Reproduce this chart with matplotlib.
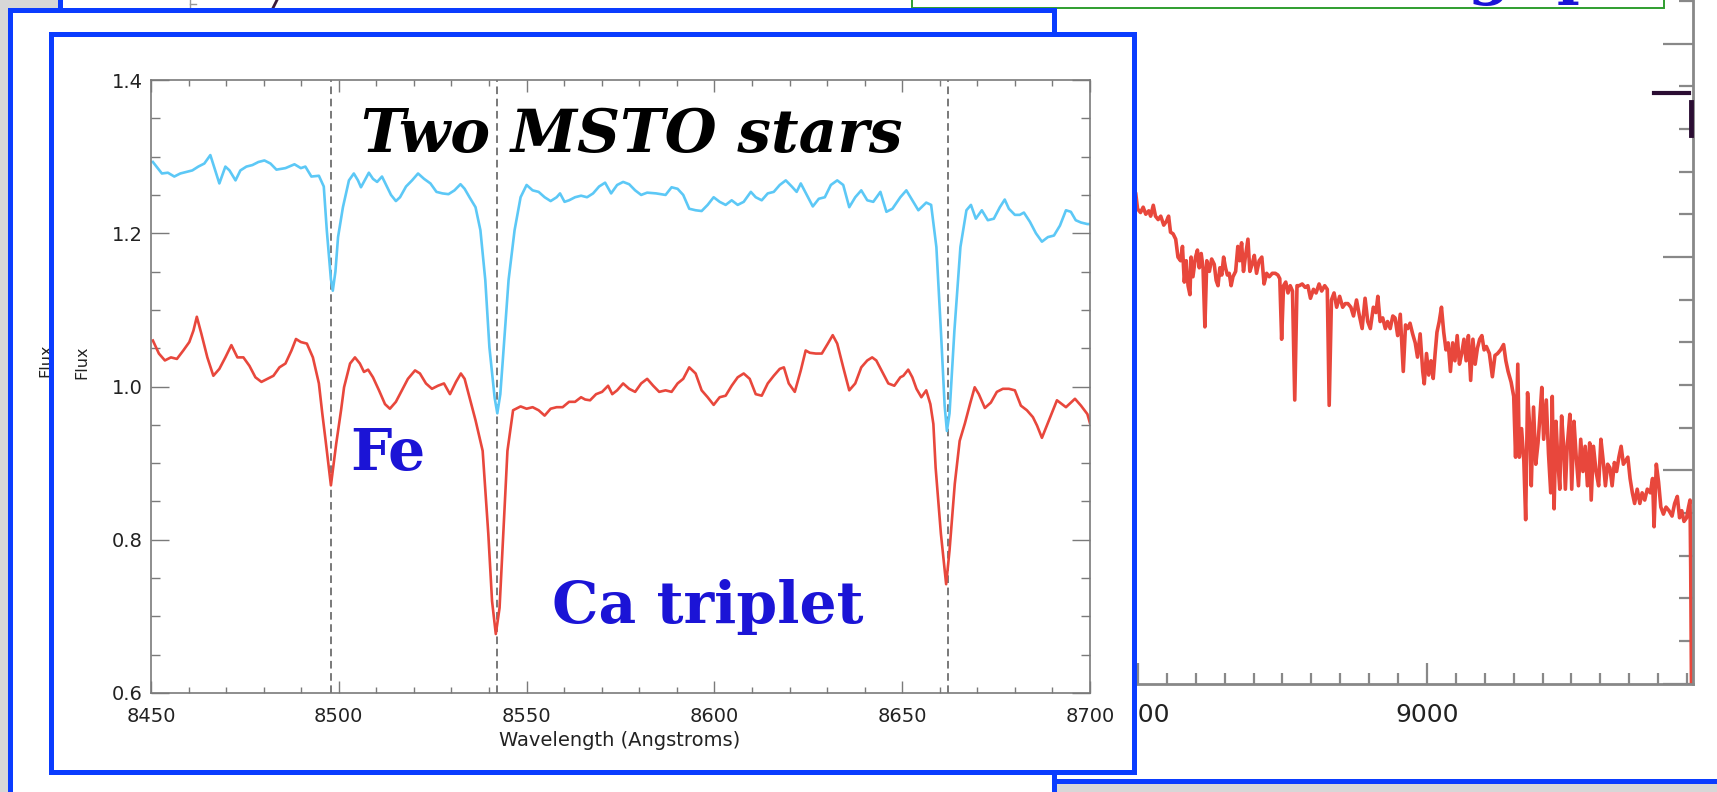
import matplotlib
matplotlib.use("Agg")
import matplotlib.pyplot as plt
from matplotlib.patches import Rectangle
from matplotlib.lines import Line2D
from matplotlib.ticker import MultipleLocator

W, H = 1717, 792

# two MSTO star spectra around the Ca triplet
blue_wave = [8450.5, 8452.9, 8454.5, 8456.2, 8457.8, 8459.4, 8461.0, 8462.6, 8464.2, 8465.8,
             8467.1, 8468.2, 8469.8, 8470.9, 8472.5, 8473.8, 8475.4, 8477.0, 8478.6, 8480.2,
             8481.8, 8483.4, 8485.8, 8488.2, 8489.9, 8491.1, 8492.7, 8494.7, 8496.0, 8496.8,
             8497.9, 8498.4, 8499.1, 8499.8, 8501.1, 8502.7, 8504.0, 8505.1, 8505.9, 8506.9,
             8508.0, 8509.1, 8510.2, 8511.5, 8512.6, 8513.9, 8515.2, 8516.3, 8517.9, 8519.5,
             8521.1, 8522.7, 8524.4, 8526.0, 8527.6, 8529.2, 8530.8, 8532.4, 8533.5, 8534.8,
             8536.4, 8537.7, 8539.0, 8540.1, 8541.5, 8542.2, 8543.0, 8543.6, 8545.2, 8546.8,
             8548.4, 8550.0, 8551.6, 8553.2, 8554.8, 8556.4, 8558.0, 8558.9, 8560.1, 8561.3,
             8562.9, 8564.5, 8566.1, 8567.7, 8569.3, 8570.9, 8572.5, 8574.1, 8575.7, 8577.3,
             8578.9, 8580.5, 8582.1, 8584.5, 8587.0, 8588.6, 8590.2, 8591.7, 8593.3, 8595.0,
             8596.6, 8598.2, 8599.8, 8601.4, 8603.0, 8604.6, 8606.2, 8607.8, 8609.7, 8611.0,
             8612.6, 8614.2, 8615.8, 8617.4, 8619.0, 8620.6, 8621.9, 8623.0, 8624.6, 8626.2,
             8627.8, 8629.4, 8631.0, 8632.7, 8634.3, 8635.9, 8637.5, 8639.1, 8640.7, 8642.3,
             8644.2, 8645.8, 8647.4, 8649.5, 8651.1, 8652.7, 8654.3, 8656.4, 8657.7, 8659.1,
             8660.3, 8661.3, 8661.9, 8662.6, 8663.9, 8665.5, 8667.1, 8668.3, 8669.6, 8671.2,
             8672.8, 8674.4, 8676.0, 8677.3, 8678.4, 8680.0, 8681.3, 8682.4, 8684.0, 8685.6,
             8687.2, 8688.8, 8690.4, 8692.0, 8693.6, 8694.9, 8696.2, 8697.6, 8699.3, 8700.0]
blue_flux = [1.293, 1.278, 1.279, 1.274, 1.278, 1.280, 1.282, 1.287, 1.291, 1.302,
             1.282, 1.265, 1.287, 1.282, 1.269, 1.282, 1.287, 1.289, 1.293, 1.295,
             1.291, 1.283, 1.285, 1.290, 1.285, 1.287, 1.274, 1.275, 1.261, 1.204,
             1.140, 1.125, 1.150, 1.195, 1.234, 1.269, 1.278, 1.269, 1.260, 1.269,
             1.279, 1.271, 1.267, 1.274, 1.263, 1.250, 1.242, 1.247, 1.261, 1.269,
             1.278, 1.271, 1.265, 1.254, 1.252, 1.251, 1.256, 1.264, 1.258, 1.247,
             1.234, 1.204, 1.139, 1.051, 0.985, 0.965, 0.990, 1.030, 1.139, 1.204,
             1.247, 1.263, 1.256, 1.254, 1.247, 1.242, 1.247, 1.252, 1.241, 1.243,
             1.247, 1.249, 1.247, 1.252, 1.261, 1.266, 1.252, 1.263, 1.267, 1.264,
             1.256, 1.250, 1.253, 1.252, 1.250, 1.260, 1.258, 1.250, 1.232, 1.230,
             1.229, 1.237, 1.247, 1.241, 1.237, 1.243, 1.237, 1.241, 1.254, 1.247,
             1.243, 1.252, 1.254, 1.263, 1.269, 1.261, 1.254, 1.265, 1.250, 1.235,
             1.245, 1.247, 1.263, 1.269, 1.263, 1.234, 1.247, 1.256, 1.243, 1.241,
             1.254, 1.228, 1.232, 1.247, 1.256, 1.243, 1.230, 1.240, 1.237, 1.182,
             1.073, 0.975, 0.942, 0.965, 1.073, 1.182, 1.230, 1.237, 1.219, 1.230,
             1.217, 1.219, 1.234, 1.244, 1.232, 1.224, 1.224, 1.227, 1.215, 1.200,
             1.189, 1.195, 1.197, 1.210, 1.230, 1.228, 1.217, 1.214, 1.212, 1.212]

red_wave = [8450.5, 8452.1, 8453.7, 8455.3, 8456.9, 8458.6, 8460.2, 8461.3, 8462.2, 8463.4,
            8465.0, 8466.6, 8468.2, 8469.8, 8471.4, 8473.0, 8474.6, 8476.2, 8477.8, 8479.4,
            8481.0, 8482.6, 8484.2, 8485.8, 8487.4, 8488.6, 8489.9, 8491.5, 8493.1, 8494.7,
            8495.6, 8496.5, 8497.9, 8499.3, 8500.6, 8501.4, 8503.0, 8504.3, 8505.6, 8506.7,
            8507.8, 8509.1, 8510.7, 8512.3, 8513.6, 8515.2, 8516.8, 8518.4, 8520.3, 8521.6,
            8523.2, 8524.8, 8526.4, 8528.0, 8529.6, 8531.2, 8532.5, 8533.5, 8534.8, 8536.4,
            8538.3, 8539.8, 8540.8, 8541.8, 8542.8, 8543.8, 8544.9, 8546.4, 8548.4, 8550.0,
            8551.6, 8553.2, 8554.8, 8556.4, 8558.0, 8559.6, 8561.3, 8562.9, 8564.5, 8565.6,
            8566.9, 8568.5, 8570.1, 8571.7, 8572.8, 8574.1, 8575.7, 8577.3, 8578.9, 8580.5,
            8582.1, 8583.7, 8585.3, 8587.0, 8588.6, 8590.2, 8591.7, 8593.3, 8595.0, 8596.6,
            8598.2, 8599.8, 8601.4, 8603.0, 8604.6, 8606.2, 8607.8, 8609.4, 8611.0, 8612.6,
            8614.2, 8615.8, 8617.4, 8618.5, 8619.8, 8621.4, 8623.0, 8624.3, 8625.4, 8627.0,
            8628.6, 8630.2, 8631.5, 8632.7, 8634.3, 8635.9, 8637.5, 8639.1, 8640.7, 8642.0,
            8643.1, 8644.7, 8646.3, 8647.9, 8649.5, 8650.3, 8651.6, 8652.7, 8653.8, 8655.1,
            8656.4, 8657.5, 8658.3, 8658.9, 8660.3, 8661.7, 8662.6, 8664.0, 8665.3, 8666.7,
            8668.1, 8669.3, 8670.4, 8672.0, 8673.6, 8675.2, 8676.8, 8678.4, 8680.0, 8681.6,
            8683.2, 8684.8, 8685.9, 8687.2, 8689.0, 8691.2, 8693.6, 8696.0, 8697.6, 8699.3,
            8700.0]
red_flux = [1.060, 1.043, 1.034, 1.038, 1.036, 1.047, 1.058, 1.073, 1.091, 1.069,
            1.038, 1.014, 1.023, 1.038, 1.054, 1.038, 1.038, 1.027, 1.012, 1.006,
            1.010, 1.014, 1.025, 1.030, 1.047, 1.062, 1.058, 1.056, 1.038, 1.004,
            0.965, 0.929, 0.871, 0.925, 0.969, 0.999, 1.030, 1.038, 1.030, 1.019,
            1.022, 1.012, 0.995, 0.977, 0.971, 0.980, 0.995, 1.010, 1.021, 1.017,
            1.004, 0.997, 1.001, 1.004, 0.990, 1.006, 1.017, 1.010, 0.986, 0.956,
            0.916, 0.808, 0.720, 0.677, 0.711, 0.808, 0.916, 0.969, 0.974, 0.971,
            0.973, 0.969, 0.962, 0.971, 0.973, 0.973, 0.980, 0.980, 0.986, 0.983,
            0.982, 0.990, 0.993, 1.001, 0.990, 0.995, 1.004, 0.997, 0.993, 1.004,
            1.010, 1.001, 0.993, 0.995, 0.993, 1.004, 1.010, 1.025, 1.017, 0.995,
            0.986, 0.976, 0.986, 0.988, 1.001, 1.012, 1.017, 1.010, 0.990, 0.988,
            1.004, 1.014, 1.023, 1.025, 1.004, 0.993, 1.021, 1.047, 1.044, 1.043,
            1.043, 1.056, 1.067, 1.056, 1.025, 0.995, 1.004, 1.025, 1.034, 1.038,
            1.034, 1.019, 1.004, 1.001, 1.012, 1.014, 1.022, 1.012, 0.997, 0.986,
            0.995, 0.977, 0.951, 0.894, 0.808, 0.742, 0.786, 0.873, 0.929, 0.952,
            0.978, 0.999, 0.990, 0.972, 0.979, 0.993, 0.997, 0.997, 0.995, 0.975,
            0.969, 0.960, 0.949, 0.933, 0.955, 0.982, 0.973, 0.984, 0.975, 0.964,
            0.952]

line_centers = [8498.0, 8542.1, 8662.1]
x_ticks = [8450, 8500, 8550, 8600, 8650, 8700]
y_ticks = [0.6, 0.8, 1.0, 1.2, 1.4]
y_ticklabels = ["0.6", "0.8", "1.0", "1.2", "1.4"]

# wide spectrum on the slide behind (arbitrary flux units)
bg_wave = [8490.0, 8495.9, 8499.2, 8504.3, 8508.9, 8513.4, 8518.6, 8521.8, 8526.4, 8530.2, 8534.8,
           8539.3, 8544.5, 8549.0, 8552.9, 8556.2, 8560.7, 8565.2, 8569.1, 8573.6, 8576.9,
           8580.1, 8583.4, 8586.6, 8589.8, 8591.8, 8595.0, 8599.5, 8602.8, 8606.0, 8609.3,
           8612.5, 8615.7, 8619.0, 8623.5, 8627.4, 8631.9, 8635.2, 8638.4, 8641.6, 8644.9,
           8648.1, 8651.4, 8654.6, 8657.8, 8661.1, 8664.3, 8668.9, 8672.7, 8676.0, 8679.2,
           8682.5, 8685.7, 8690.2, 8693.5, 8697.4, 8701.2, 8705.1, 8709.6, 8714.2, 8718.1,
           8722.6, 8727.1, 8732.3, 8737.5, 8742.0, 8745.3, 8748.5, 8751.8, 8755.6, 8759.5,
           8763.4, 8767.3, 8771.2, 8775.1, 8779.0, 8784.1, 8789.3, 8793.9, 8798.4, 8803.6,
           8808.1, 8813.3, 8817.8, 8823.0, 8827.5, 8830.8, 8834.7, 8839.2, 8843.7, 8848.9,
           8854.1, 8858.6, 8863.2, 8868.3, 8872.9, 8878.1, 8882.6, 8887.8, 8892.9, 8897.5,
           8902.0, 8907.2, 8911.7, 8915.0, 8918.9, 8923.4, 8927.9, 8931.8, 8936.4, 8940.9,
           8944.8, 8949.3, 8953.8, 8959.0, 8962.9, 8966.8, 8970.7, 8975.2, 8979.7, 8983.6,
           8988.2, 8992.7, 8995.3, 8999.2, 9003.1, 9007.0, 9010.8, 9014.1, 9017.3, 9021.2,
           9025.1, 9029.0, 9032.9, 9036.7, 9040.6, 9044.5, 9048.4, 9052.3, 9056.2, 9060.1,
           9064.0, 9067.8, 9071.7, 9075.6, 9079.5, 9083.4, 9087.3, 9091.2, 9095.0, 9098.9,
           9102.8, 9108.0, 9113.2, 9117.7, 9122.2, 9127.4, 9132.6, 9136.5, 9140.4, 9145.6,
           9150.1, 9153.3, 9157.2, 9159.8, 9163.7, 9167.6, 9170.8, 9174.1, 9178.0, 9180.5,
           9184.4, 9188.3, 9192.2, 9196.1, 9198.7, 9201.9, 9206.5, 9210.3, 9214.2, 9216.8,
           9220.0, 9223.3, 9226.5, 9229.8, 9233.0, 9236.2, 9239.5, 9242.7, 9247.3, 9250.5,
           9254.4, 9258.3, 9262.2, 9266.1, 9269.9, 9273.8, 9277.7, 9281.6, 9284.2, 9288.1,
           9292.6, 9297.1, 9301.0, 9304.9, 9308.8, 9312.7, 9316.6, 9320.4, 9324.3, 9328.2,
           9332.1, 9336.0, 9339.9, 9343.8, 9347.6, 9351.5, 9355.4, 9359.3, 9363.8, 9368.4,
           9372.3, 9376.8, 9381.3, 9386.5, 9390.4, 9393.0, 9396.9, 9400.8, 9404.7, 9409.2,
           9413.7, 9418.9, 9424.1, 9428.6, 9433.2, 9437.1, 9440.9, 9444.8, 9449.3, 9452.6,
           9455.2, 9456.4, 9457.7]
bg_flux = [2.290, 2.300, 2.225, 2.208, 2.233, 2.200, 2.216, 2.191, 2.242, 2.191, 2.175,
           2.191, 2.149, 2.166, 2.191, 2.116, 2.108, 2.083, 1.999, 1.982, 2.049,
           1.882, 1.982, 1.865, 1.823, 1.999, 1.907, 1.999, 2.032, 1.949, 2.016,
           1.949, 1.672, 1.982, 1.932, 1.990, 1.965, 1.890, 1.865, 1.949, 1.915,
           1.999, 1.949, 1.915, 1.923, 1.865, 1.907, 1.932, 2.049, 1.982, 2.066,
           1.932, 1.999, 2.083, 1.932, 1.965, 2.007, 1.923, 1.982, 1.999, 1.873,
           1.923, 1.907, 1.923, 1.923, 1.915, 1.898, 1.614, 1.865, 1.882, 1.831,
           1.865, 1.840, 1.329, 1.865, 1.865, 1.873, 1.857, 1.865, 1.806, 1.848,
           1.831, 1.873, 1.840, 1.865, 1.848, 1.304, 1.798, 1.831, 1.764, 1.815,
           1.764, 1.781, 1.781, 1.764, 1.723, 1.798, 1.731, 1.664, 1.806, 1.697,
           1.664, 1.764, 1.739, 1.815, 1.697, 1.714, 1.664, 1.697, 1.664, 1.723,
           1.714, 1.631, 1.731, 1.463, 1.681, 1.664, 1.689, 1.639, 1.597, 1.530,
           1.639, 1.463, 1.405, 1.547, 1.446, 1.513, 1.430, 1.547, 1.647, 1.697,
           1.764, 1.647, 1.564, 1.597, 1.463, 1.597, 1.513, 1.631, 1.497, 1.547,
           1.614, 1.513, 1.631, 1.421, 1.614, 1.497, 1.572, 1.614, 1.631, 1.564,
           1.580, 1.547, 1.438, 1.538, 1.547, 1.564, 1.589, 1.513, 1.463, 1.413,
           1.346, 1.061, 1.497, 1.061, 1.195, 1.045, 0.768, 1.363, 1.195, 0.927,
           1.296, 1.028, 1.128, 1.279, 1.388, 1.145, 1.329, 1.078, 0.894, 1.346,
           0.819, 1.229, 1.045, 0.911, 1.254, 1.128, 0.911, 1.112, 1.262, 0.911,
           1.229, 1.061, 0.927, 1.145, 0.994, 1.112, 0.927, 1.128, 0.860, 1.112,
           0.994, 0.927, 1.145, 1.045, 0.927, 1.028, 1.011, 0.927, 1.036, 0.994,
           1.061, 1.112, 1.028, 1.045, 1.061, 0.961, 0.894, 0.844, 0.911, 0.844,
           0.894, 0.860, 0.911, 0.894, 0.961, 0.735, 1.028, 0.944, 0.827, 0.794,
           0.827, 0.810, 0.785, 0.844, 0.877, 0.777, 0.810, 0.760, 0.777, 0.827,
           0.860, 0.542, 0.0]
bg_ticks = [8500, 9000]

BLUE = "#0a3cff"
TEXT_BLUE = "#1b14d6"
RED = "#e8473c"
CYAN = "#5cc8f6"


def box(x0, y0, x1, y1):
    # pixel box (top-left origin) -> figure fraction rect
    return [x0 / W, 1 - y1 / H, (x1 - x0) / W, (y1 - y0) / H]


def panel(fig, x0, y0, x1, y1, z, edge=BLUE, lw=3.6):
    r = Rectangle((x0 / W, 1 - y1 / H), (x1 - x0) / W, (y1 - y0) / H,
                  transform=fig.transFigure, facecolor="white", edgecolor=edge,
                  linewidth=lw, joinstyle="miter", zorder=z)
    fig.add_artist(r)


def seg(fig, xs, ys, color, lw, z):
    fig.add_artist(Line2D([x / W for x in xs], [1 - y / H for y in ys],
                          transform=fig.transFigure, color=color, lw=lw, zorder=z))


fig = plt.figure(figsize=(W / 100, H / 100), dpi=100)
fig.patch.set_facecolor("#d7d7d7")

# slides stacked behind the main figure
panel(fig, 60, -50, 1800, 781, -6)
panel(fig, 912, -50, 1664, 8.3, -5.5, edge="#2f9e2f", lw=1.4)
for ch, xc in [("g", 1489), ("p", 1578)]:
    fig.text(xc / W, 1 + 8 / H, ch, ha="center", va="baseline", fontsize=44,
             family="DejaVu Serif", weight="bold", color=TEXT_BLUE, zorder=-5.4)
seg(fig, [190, 190], [0, 8], "#999999", 1.0, -5.3)
seg(fig, [190, 196], [4, 4], "#999999", 1.0, -5.3)
seg(fig, [277, 273], [0, 8], "#3a1a3a", 2.0, -5.3)

axb = fig.add_axes(box(700, -20.4, 1692.5, 683.5), zorder=-5)
axb.set_facecolor("none")
axb.plot(bg_wave, bg_flux, color=RED, lw=2.6)
axb.set_xlim(7742, 9459.5)
axb.set_ylim(0, 3.3)
axb.set_xticks(bg_ticks)
axb.xaxis.set_minor_locator(MultipleLocator(50))
axb.yaxis.set_major_locator(MultipleLocator(1))
axb.yaxis.set_minor_locator(MultipleLocator(0.2))
axb.spines["left"].set_visible(False)
axb.spines["top"].set_visible(False)
for s in ("bottom", "right"):
    axb.spines[s].set_color("#888888")
    axb.spines[s].set_linewidth(2.0)
axb.tick_params(axis="x", which="major", direction="in", length=15, width=1.6,
                color="#888888", labelsize=18, labelcolor="#222222", pad=14)
axb.tick_params(axis="x", which="minor", direction="in", length=8, width=1.6, color="#888888")
axb.tick_params(axis="y", which="both", direction="in", left=False, right=True,
                labelleft=False, labelright=False, color="#888888", width=1.6)
axb.tick_params(axis="y", which="major", length=21.5)
axb.tick_params(axis="y", which="minor", length=10)

seg(fig, [1654, 1689], [93, 93], "#2b0d33", 3.0, -4.9)
seg(fig, [1691, 1691], [102, 135], "#2b0d33", 3.5, -4.9)

panel(fig, 9.5, 9.5, 1054, 900, -4)
fig.text(46 / W, 1 - 360 / H, "Flux", rotation=90, ha="center", va="center",
         fontsize=11.5, color="#222222", zorder=-3.9)

panel(fig, 51, 34, 1134, 772, -3)

# main figure: the two spectra
ax = fig.add_axes(box(151, 80, 1090, 693), zorder=0)
ax.set_facecolor("none")
for c in line_centers:
    ax.axvline(c, color="#555555", lw=1.1, ls=(0, (5, 3)), zorder=1)
ax.plot(blue_wave, blue_flux, color=CYAN, lw=1.9, zorder=2)
ax.plot(red_wave, red_flux, color=RED, lw=1.9, zorder=2)
ax.set_xlim(8450, 8700)
ax.set_ylim(0.6, 1.4)
ax.set_xticks(x_ticks)
ax.set_yticks(y_ticks)
ax.set_yticklabels(y_ticklabels)
ax.xaxis.set_minor_locator(MultipleLocator(10))
ax.yaxis.set_minor_locator(MultipleLocator(0.05))
for s in ax.spines.values():
    s.set_color("#7a7a7a")
    s.set_linewidth(1.2)
ax.tick_params(axis="both", which="both", direction="in", top=True, right=True,
               color="#7a7a7a", width=1.0, labelcolor="#222222", labelsize=14)
ax.tick_params(axis="x", which="major", length=8.6, pad=10)
ax.tick_params(axis="x", which="minor", length=4.3)
ax.tick_params(axis="y", which="major", length=13, pad=6)
ax.tick_params(axis="y", which="minor", length=6.5)

fig.text(620 / W, 1 - 740 / H, "Wavelength (Angstroms)", ha="center", va="center",
         fontsize=14, color="#222222")
fig.text(82 / W, 1 - 362 / H, "Flux", rotation=90, ha="center", va="center",
         fontsize=11.5, color="#222222")

fig.text(632 / W, 1 - 152 / H, "Two MSTO stars", ha="center", va="baseline",
         fontsize=43, family="DejaVu Serif", weight="bold", style="italic", color="black")
fig.text(350 / W, 1 - 470 / H, "Fe", ha="left", va="baseline",
         fontsize=42, family="DejaVu Serif", weight="bold", color=TEXT_BLUE)
fig.text(552 / W, 1 - 623 / H, "Ca triplet", ha="left", va="baseline",
         fontsize=42, family="DejaVu Serif", weight="bold", color=TEXT_BLUE)

fig.savefig("out.png", dpi=100, facecolor=fig.get_facecolor())
